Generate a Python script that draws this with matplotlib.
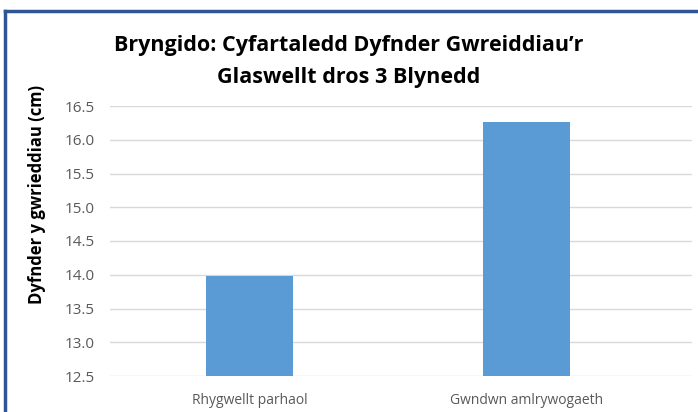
import matplotlib.pyplot as plt
from matplotlib.lines import Line2D

categories = ['Rhygwellt parhaol', 'Gwndwn amlrywogaeth']
depths = [13.98, 16.27]
yticks = [12.5, 13.0, 13.5, 14.0, 14.5, 15.0, 15.5, 16.0, 16.5]

plt.rcParams['font.family'] = ['Open Sans', 'DejaVu Sans']

fig = plt.figure(figsize=(6.98, 4.12), dpi=100)
ax = fig.add_axes([110 / 698, 1 - 376 / 412, 582 / 698, 270 / 412])

x = list(range(len(categories)))
ax.bar(x, depths, width=0.314, color='#5B9BD5', zorder=3)
ax.set_ylim(12.5, 16.5)
ax.set_xlim(-0.505, 1.596)
ax.set_yticks(yticks)
ax.set_yticklabels([f'{v:.1f}' for v in yticks])
ax.set_xticks(x)
ax.set_xticklabels(categories)
ax.tick_params(axis='both', length=0, colors='#595959')
ax.tick_params(axis='y', pad=11, labelsize=11)
ax.tick_params(axis='x', pad=12, labelsize=10)
ax.grid(axis='y', color='#D9D9D9', linewidth=1, zorder=0)
for s in ax.spines.values():
    s.set_visible(False)

fig.text(0.5, 1 - 45 / 412, "Bryngido: Cyfartaledd Dyfnder Gwreiddiau\u2019r", ha='center', va='center',
         fontsize=15.5, fontweight='bold', color='black')
fig.text(0.5, 1 - 77 / 412, 'Glaswellt dros 3 Blynedd', ha='center', va='center',
         fontsize=15.5, fontweight='bold', color='black')
fig.text(37 / 698, 1 - 194 / 412, 'Dyfnder y gwrieddiau (cm)', rotation=90, ha='center', va='center',
         fontsize=12, fontweight='bold', color='black')

# frame border
fig.add_artist(Line2D([5 / 698, 1], [1 - 10.5 / 412, 1 - 10.5 / 412], color='#2F5597', linewidth=2.5))
fig.add_artist(Line2D([5 / 698, 5 / 698], [0, 1 - 10.5 / 412], color='#2F5597', linewidth=2.5))

fig.savefig('out.png', dpi=100)
